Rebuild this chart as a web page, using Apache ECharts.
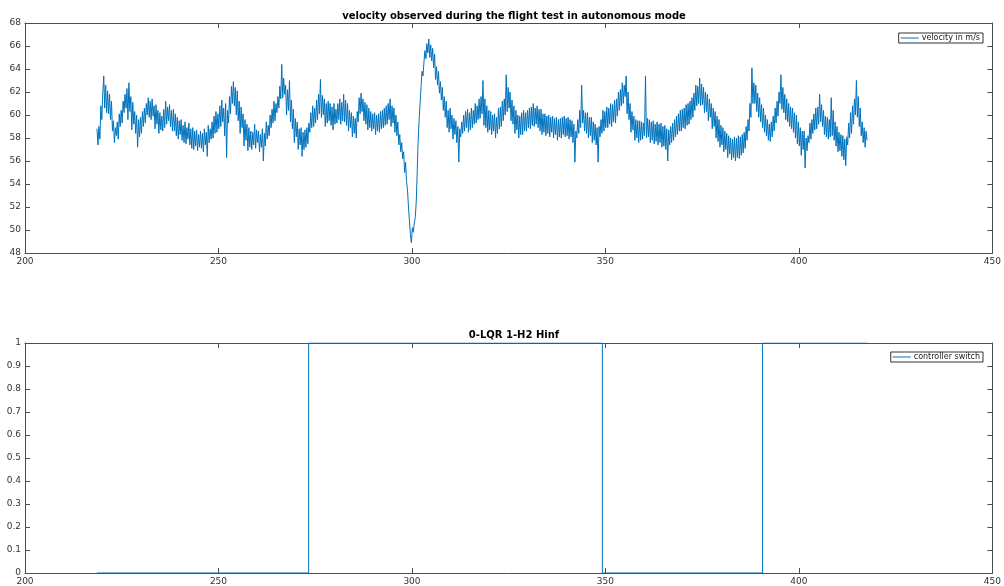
<!DOCTYPE html>
<html>
<head>
<meta charset="utf-8">
<script src="https://cdn.jsdelivr.net/npm/echarts@6/dist/echarts.min.js"></script>
<style>
  html, body { margin: 0; padding: 0; background: #fff; }
  #main { width: 1004px; height: 586px; }
</style>
</head>
<body>
<div id="main"></div>
<script>
// velocity samples, every quarter second starting at t0
var velT0 = 218.6;
var velDt = 0.25;
var velocity = [
  58.8, 57.4, 59.0, 57.9, 60.8, 59.6, 61.9, 63.4, 60.6, 62.6, 60.2, 62.1, 60.1, 61.8, 59.6, 61.2, 58.6, 59.5, 57.6, 58.9,
  58.2, 59.4, 57.9, 60.1, 59.0, 60.4, 59.3, 61.2, 60.2, 61.8, 60.6, 62.3, 59.6, 62.8, 60.3, 61.6, 58.7, 61.1, 59.2, 60.3,
  58.4, 60.0, 57.2, 59.6, 58.1, 59.8, 58.4, 60.3, 59.0, 60.6, 59.3, 61.0, 60.0, 61.5, 59.8, 61.2, 59.6, 61.4, 59.9, 60.8,
  58.8, 60.9, 59.2, 60.4, 58.4, 60.2, 58.7, 59.9, 58.6, 60.5, 58.9, 61.2, 59.2, 60.7, 59.5, 60.9, 59.0, 60.4, 58.6, 60.5,
  58.6, 60.1, 58.2, 59.8, 57.9, 59.5, 58.3, 59.6, 57.8, 59.1, 57.6, 59.4, 57.5, 58.9, 57.9, 59.3, 57.4, 58.8, 57.1, 58.9,
  57.0, 58.6, 57.3, 58.7, 56.9, 58.3, 57.2, 58.6, 57.1, 58.4, 56.8, 58.8, 57.4, 58.5, 56.4, 59.1, 57.6, 58.8, 57.9, 59.4,
  58.0, 59.9, 58.4, 60.3, 58.5, 60.1, 58.8, 60.8, 59.0, 61.3, 59.4, 60.6, 58.2, 61.0, 56.3, 60.4, 59.3, 61.6, 60.1, 62.5,
  61.0, 62.9, 60.8, 62.4, 60.0, 62.1, 59.5, 61.2, 58.4, 60.7, 58.9, 60.1, 57.3, 59.6, 57.8, 59.2, 56.9, 58.9, 57.2, 58.6,
  57.0, 58.5, 57.4, 59.2, 57.1, 58.7, 57.6, 58.6, 56.8, 58.3, 57.2, 58.8, 56.0, 58.4, 57.3, 59.4, 57.9, 59.1, 58.2, 60.0,
  58.9, 60.5, 59.3, 61.2, 59.5, 61.0, 60.2, 61.6, 60.6, 62.5, 61.4, 64.4, 61.5, 63.2, 61.8, 62.6, 60.0, 62.2, 60.4, 63.0,
  59.4, 61.3, 58.8, 60.5, 57.6, 59.7, 58.1, 59.4, 57.0, 58.8, 57.4, 58.9, 56.4, 58.5, 57.0, 58.7, 57.2, 58.9, 57.5, 59.3,
  58.5, 60.2, 58.9, 60.8, 59.0, 60.6, 59.3, 61.3, 59.6, 61.8, 60.1, 63.1, 59.8, 61.7, 60.0, 61.4, 59.0, 61.0, 59.3, 61.2,
  59.5, 61.0, 59.1, 60.7, 58.7, 61.0, 59.2, 60.5, 59.3, 61.0, 59.6, 61.4, 59.2, 61.1, 59.5, 61.8, 59.4, 61.3, 59.1, 61.0,
  58.6, 60.4, 58.9, 60.2, 58.1, 59.9, 58.4, 59.7, 58.0, 60.3, 59.4, 61.5, 60.1, 61.9, 60.3, 61.4, 59.5, 61.1, 59.2, 60.9,
  58.7, 60.6, 58.9, 60.3, 58.6, 60.1, 58.8, 60.2, 58.3, 60.0, 58.6, 60.1, 58.5, 60.3, 58.8, 60.4, 58.9, 60.6, 59.1, 60.8,
  59.2, 61.0, 59.6, 61.4, 59.0, 60.8, 59.3, 60.6, 58.5, 60.0, 58.2, 59.4, 57.4, 58.3, 56.8, 57.6, 56.2, 56.8, 55.0, 55.9,
  54.2, 53.5, 52.0, 50.8, 49.6, 48.9, 50.2, 49.8, 50.6, 51.1, 52.4, 55.0, 57.8, 59.6, 61.0, 62.5, 63.8, 63.4, 64.6, 65.6,
  64.9, 66.2, 65.4, 66.6, 65.0, 66.1, 64.7, 65.8, 64.1, 65.3, 63.1, 64.2, 62.6, 63.8, 61.9, 62.9, 61.3, 62.4, 60.4, 61.6,
  59.8, 61.2, 58.9, 60.4, 58.5, 60.6, 58.8, 60.0, 57.9, 59.7, 58.3, 59.5, 57.6, 59.0, 55.9, 58.8, 58.1, 59.4, 58.4, 60.0,
  58.6, 60.3, 58.9, 60.5, 58.5, 60.2, 58.7, 60.6, 58.9, 60.4, 59.2, 61.0, 59.3, 60.8, 59.6, 61.4, 59.7, 61.6, 60.1, 63.0,
  59.1, 61.4, 58.9, 60.8, 58.5, 60.4, 58.7, 60.3, 58.3, 60.0, 58.6, 60.1, 58.0, 59.8, 58.4, 60.6, 58.8, 60.7, 59.0, 61.2,
  59.5, 61.4, 60.0, 63.5, 60.3, 62.4, 60.6, 62.0, 59.5, 61.3, 59.2, 60.8, 58.4, 60.4, 58.7, 60.0, 58.0, 59.9, 58.3, 60.2,
  58.3, 60.4, 58.6, 60.2, 58.6, 60.4, 58.9, 60.6, 58.8, 60.7, 59.1, 61.0, 59.0, 60.6, 59.2, 60.8, 58.9, 60.5, 58.6, 60.5,
  58.3, 60.1, 58.5, 60.1, 58.2, 59.9, 58.4, 60.0, 58.1, 59.8, 58.5, 59.9, 58.0, 59.7, 58.3, 59.8, 57.8, 59.6, 58.1, 59.7,
  58.0, 59.8, 58.3, 59.9, 58.1, 59.7, 58.2, 59.8, 57.9, 59.6, 58.1, 59.5, 57.6, 59.2, 55.9, 58.6, 58.0, 59.6, 58.4, 60.4,
  58.9, 62.6, 59.3, 60.4, 58.6, 60.2, 58.4, 60.2, 58.0, 59.8, 58.2, 59.8, 57.6, 59.4, 57.8, 59.2, 57.4, 58.9, 55.9, 59.0,
  58.1, 59.6, 58.4, 60.4, 58.6, 60.3, 58.9, 60.7, 58.9, 60.6, 59.2, 61.0, 59.0, 60.9, 59.4, 61.3, 59.3, 61.4, 59.9, 62.0,
  60.4, 62.2, 60.8, 62.8, 61.0, 62.6, 61.6, 63.4, 60.1, 62.0, 59.6, 61.0, 58.5, 60.3, 58.7, 59.9, 57.8, 59.6, 58.0, 59.5,
  57.6, 59.5, 57.8, 59.4, 57.9, 59.3, 58.2, 63.4, 58.0, 59.7, 58.1, 59.6, 57.6, 59.4, 57.8, 59.5, 57.5, 59.2, 57.7, 59.4,
  57.4, 59.2, 57.6, 59.3, 57.2, 59.0, 57.3, 59.1, 57.0, 58.8, 56.0, 58.7, 57.4, 59.0, 57.6, 59.3, 57.8, 59.6, 58.1, 59.9,
  58.3, 60.1, 58.6, 60.4, 58.6, 60.5, 58.9, 60.6, 58.8, 60.9, 59.1, 61.0, 59.2, 61.2, 59.6, 61.5, 59.8, 61.9, 60.4, 62.6,
  60.8, 62.5, 61.0, 63.2, 60.8, 62.7, 60.9, 62.4, 60.2, 62.0, 60.3, 61.8, 59.5, 61.4, 59.8, 61.0, 58.8, 60.6, 59.0, 60.3,
  58.0, 59.9, 57.7, 59.6, 57.2, 59.1, 57.4, 58.9, 56.8, 58.6, 57.0, 58.4, 56.3, 58.2, 56.6, 58.0, 56.1, 57.9, 56.3, 58.1,
  56.0, 58.0, 56.3, 58.2, 56.2, 58.1, 56.5, 58.3, 56.7, 58.5, 57.1, 59.0, 57.8, 59.6, 58.6, 61.0, 59.8, 64.1, 61.0, 62.8,
  61.0, 62.6, 60.3, 61.9, 59.8, 61.5, 59.4, 60.9, 58.9, 60.6, 58.5, 60.0, 58.2, 59.6, 57.8, 59.2, 57.7, 59.4, 58.1, 59.9,
  58.6, 60.6, 59.3, 61.2, 59.9, 62.0, 61.0, 63.5, 60.5, 62.4, 60.2, 61.8, 59.6, 61.4, 59.4, 61.0, 59.0, 60.7, 58.8, 60.6,
  58.5, 60.2, 58.0, 60.0, 57.5, 59.4, 57.3, 58.9, 56.5, 58.6, 57.0, 58.6, 55.4, 58.0, 56.9, 58.2, 57.6, 59.3, 57.9, 59.6,
  58.4, 60.1, 58.7, 60.6, 58.8, 60.7, 59.2, 61.8, 59.4, 60.9, 59.0, 60.4, 58.3, 59.9, 58.1, 59.8, 57.9, 59.6, 58.1, 61.5,
  58.2, 60.4, 57.8, 59.4, 57.3, 59.0, 56.8, 58.5, 56.9, 58.3, 56.4, 58.2, 56.1, 57.9, 55.6, 58.1, 57.4, 59.3, 58.0, 60.2,
  58.4, 60.8, 59.2, 61.4, 60.0, 63.0, 59.8, 61.6, 59.0, 60.6, 58.2, 59.4, 57.6, 58.9, 57.2, 58.6, 57.8
];

// controller switch: times where the state changes and the state held from there
var switchTimes = [218.6, 273.3, 349.2, 390.6, 417.7];
var switchStates = [0, 1, 0, 1, 1];

var titles = ['velocity observed during the flight test in autonomous mode', '0-LQR 1-H2 Hinf'];
var seriesNames = ['velocity in m/s', 'controller switch'];

var velData = velocity.map(function (v, i) {
  return [+(velT0 + i * velDt).toFixed(2), v];
});
var switchData = switchTimes.map(function (t, i) {
  return [t, switchStates[i]];
});

var axisColor = '#4d4d4d';
var labelColor = '#333';
var font = 'DejaVu Sans';

function xAx(grid, pos, labels) {
  return {
    type: 'value', gridIndex: grid, position: pos,
    min: 200, max: 450, interval: 50,
    axisLine: { show: true, onZero: false, lineStyle: { color: axisColor, width: 1 } },
    axisTick: { show: true, inside: true, length: 5, lineStyle: { color: axisColor } },
    axisLabel: { show: labels, color: labelColor, fontSize: 9, fontFamily: font, margin: 4 },
    splitLine: { show: false }
  };
}
function yAx(grid, pos, labels, min, max, interval) {
  return {
    type: 'value', gridIndex: grid, position: pos,
    min: min, max: max, interval: interval,
    axisLine: { show: true, onZero: false, lineStyle: { color: axisColor, width: 1 } },
    axisTick: { show: true, inside: true, length: 5, lineStyle: { color: axisColor } },
    axisLabel: { show: labels, color: labelColor, fontSize: 9, fontFamily: font, margin: 4 },
    splitLine: { show: false }
  };
}

var chart = echarts.init(document.getElementById('main'), null, { renderer: 'canvas' });
chart.setOption({
  animation: false,
  backgroundColor: '#fff',
  title: [{
    text: titles[0], left: 509, top: 6, textAlign: 'center',
    textStyle: { fontFamily: font, fontSize: 10, fontWeight: 'bold', color: '#000' }
  }, {
    text: titles[1], left: 509, top: 325, textAlign: 'center',
    textStyle: { fontFamily: font, fontSize: 10, fontWeight: 'bold', color: '#000' }
  }],
  legend: [{
    data: [seriesNames[0]], right: 21, top: 33,
    orient: 'vertical', icon: 'rect', itemWidth: 18, itemHeight: 1, itemGap: 0,
    padding: [1, 3, 1, 2], borderColor: '#333', borderWidth: 1,
    textStyle: { fontFamily: font, fontSize: 8, color: '#222', padding: [0, 0, 0, -2] }
  }, {
    data: [seriesNames[1]], right: 21, top: 352,
    orient: 'vertical', icon: 'rect', itemWidth: 18, itemHeight: 1, itemGap: 0,
    padding: [1, 3, 1, 2], borderColor: '#333', borderWidth: 1,
    textStyle: { fontFamily: font, fontSize: 8, color: '#222', padding: [0, 0, 0, -2] }
  }],
  grid: [
    { left: 25, top: 23, width: 968, height: 230 },
    { left: 25, top: 343, width: 968, height: 230 }
  ],
  xAxis: [
    xAx(0, 'bottom', true), xAx(0, 'top', false),
    xAx(1, 'bottom', true), xAx(1, 'top', false)
  ],
  yAxis: [
    yAx(0, 'left', true, 48, 68, 2), yAx(0, 'right', false, 48, 68, 2),
    yAx(1, 'left', true, 0, 1, 0.1), yAx(1, 'right', false, 0, 1, 0.1)
  ],
  series: [{
    name: seriesNames[0], type: 'line', xAxisIndex: 0, yAxisIndex: 0,
    data: velData, showSymbol: false, symbol: 'none', sampling: null,
    lineStyle: { color: '#0072BD', width: 1 },
    itemStyle: { color: '#0072BD' }
  }, {
    name: seriesNames[1], type: 'line', xAxisIndex: 2, yAxisIndex: 2,
    data: switchData, step: 'end', showSymbol: false, symbol: 'none',
    lineStyle: { color: '#0072BD', width: 1 },
    itemStyle: { color: '#0072BD' }
  }]
});
</script>
</body>
</html>
